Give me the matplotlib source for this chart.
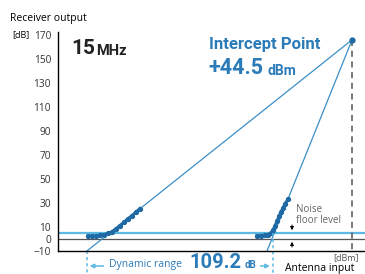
"""Receiver dynamic range at 15 MHz: fundamental and third-order response."""

import matplotlib.pyplot as plt

# values (x: antenna input [dBm], y: receiver output [dB])
FUND_IN = [-110.8, -108.4, -106.1, -103.7, -101.4, -99.0, -96.7,
           -94.3, -92.0, -89.6, -87.3, -84.9, -82.6, -80.2]
FUND_OUT = [2.4, 2.5, 2.7, 3.0, 3.6, 4.6, 6.0, 8.4, 11.2, 13.8, 16.9,
            19.5, 22.3, 25.4]
IM3_IN = [-11.4, -9.0, -6.7, -4.9, -3.1, -2.0, -0.8, 0.4, 1.6, 2.7,
          3.9, 5.1, 6.9]
IM3_OUT = [2.9, 2.9, 3.3, 3.75, 5.0, 7.5, 10.8, 15.0, 19.2, 22.5, 25.8,
           29.2, 33.3]
IP_IN, IP_OUT = 44.5, 166.0
FUND_FOOT = -111.4   # where the fundamental line reaches -10 dB
IM3_FOOT = -5.5      # where the third-order line reaches -10 dB
NOISE_FLOOR = 5.0
DR_LEFT, DR_RIGHT = -111.4, -2.2
Y_TICKS = [-10, 0, 10, 30, 50, 70, 90, 110, 130, 150, 170]

C_LINE = "#3a8fc7"
C_PTS = "#1f6aa5"
C_NOISE = "#5cb9e3"
C_TEXT = "#2b7bb9"
C_GRAY = "#555555"

W, H = 365, 274
plt.rcParams["font.family"] = ["Open Sans", "DejaVu Sans"]


def fx(px):
    return px / W


def fy(py):
    return 1 - py / H


fig = plt.figure(figsize=(W / 100, H / 100), dpi=100)
ax = fig.add_axes([fx(58), fy(251), 1 - fx(58), (251 - 32) / H])
ax.set_xlim(-128.4, 52.1)
ax.set_ylim(-10, 172.5)

ax.axhline(0, color=C_GRAY, lw=0.9)
ax.axhline(NOISE_FLOOR, color=C_NOISE, lw=1.6)

ax.plot([FUND_FOOT, IP_IN], [-10, IP_OUT], color=C_LINE, lw=0.9)
ax.plot([IM3_FOOT, IP_IN], [-10, IP_OUT], color=C_LINE, lw=0.9)
ax.plot([IP_IN, IP_IN], [IP_OUT, -10], color=C_GRAY, lw=1.1,
        ls=(0, (4, 3)))
ax.plot(IP_IN, IP_OUT, "o", ms=3.5, color=C_PTS)

ax.plot(FUND_IN, FUND_OUT, "-o", color=C_PTS, lw=2.2, ms=2.8)
ax.plot(IM3_IN, IM3_OUT, "-o", color=C_PTS, lw=2.2, ms=2.8)

# noise floor level arrows
ax.annotate("", xy=(9.2, NOISE_FLOOR), xytext=(9.2, 14),
            arrowprops=dict(arrowstyle="-|>", color="black", lw=0.7,
                            mutation_scale=5))
ax.annotate("", xy=(9.2, 0), xytext=(9.2, -9),
            arrowprops=dict(arrowstyle="-|>", color="black", lw=0.7,
                            mutation_scale=5))
ax.text(11.6, 20, "Noise\nfloor level", color="#666666", fontsize=7,
        va="center", ha="left", linespacing=1.1)

ax.set_yticks(Y_TICKS)
ax.set_xticks([])
ax.tick_params(axis="y", length=0, labelsize=7.3, pad=5,
               labelcolor="#333333")
for s in ["top", "right"]:
    ax.spines[s].set_visible(False)
ax.spines["left"].set_linewidth(1.0)
ax.spines["bottom"].set_linewidth(1.0)

# dynamic range dashed markers below the axis
for x, y0 in [(DR_LEFT, -10), (DR_RIGHT, NOISE_FLOOR)]:
    ax.plot([x, x], [y0, -30], color=C_NOISE, lw=1.1, ls=(0, (2, 2)),
            clip_on=False)

# texts
fig.text(fx(10), fy(18), "Receiver output", fontsize=7.5, va="center")
fig.text(fx(12), fy(35), "[dB]", fontsize=6.5, va="center")
fig.text(fx(71), fy(49), "15", fontsize=15, fontweight="bold",
         family="Roboto", va="center", color="#222222")
fig.text(fx(96), fy(51), "MHz", fontsize=10.5, fontweight="bold",
         family="Roboto", va="center", color="#222222")
fig.text(fx(209), fy(44), "Intercept Point", fontsize=12, fontweight="bold",
         family="Roboto", color=C_TEXT, va="center")
fig.text(fx(208), fy(68), "+44.5", fontsize=15.5, fontweight="bold",
         family="Roboto", color=C_TEXT, va="center")
fig.text(fx(267), fy(71), "dBm", fontsize=10, fontweight="bold",
         family="Roboto", color=C_TEXT, va="center")

fig.text(fx(333), fy(258), "[dBm]", fontsize=6.5, color=C_GRAY,
         va="center")
fig.text(fx(285), fy(268), "Antenna input", fontsize=7.5, va="center")

ax.annotate("", xy=(DR_LEFT, -22.5), xytext=(-100, -22.5),
            arrowprops=dict(arrowstyle="-|>", color=C_NOISE, lw=1.1,
                            mutation_scale=6), annotation_clip=False)
ax.annotate("", xy=(DR_RIGHT, -22.5), xytext=(-11, -22.5),
            arrowprops=dict(arrowstyle="-|>", color=C_NOISE, lw=1.1,
                            mutation_scale=6), annotation_clip=False)
fig.text(fx(109), fy(264), "Dynamic range", fontsize=7.5, color=C_TEXT,
         va="center")
fig.text(fx(189), fy(263), "109.2", fontsize=14.5, fontweight="bold",
         family="Roboto", color=C_TEXT, va="center")
fig.text(fx(245), fy(265), "dB", fontsize=7, fontweight="bold",
         family="Roboto", color=C_TEXT, va="center")

fig.savefig("out.png", dpi=100)
